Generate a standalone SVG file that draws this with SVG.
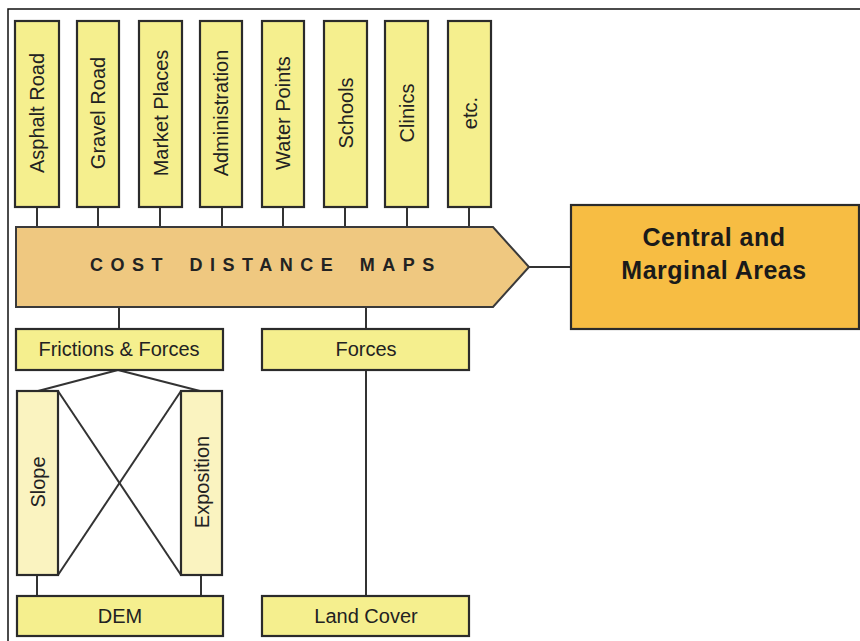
<svg xmlns="http://www.w3.org/2000/svg" width="860" height="641" viewBox="0 0 860 641">
<style>
.box{fill:#F5EF8E;stroke:#2b2b2b;stroke-width:2.2}
.lbox{fill:#FAF3C0;stroke:#2b2b2b;stroke-width:2.2}
.t{font-family:"Liberation Sans",Arial,sans-serif;font-size:20px;fill:#222;text-anchor:middle}
.c{stroke:#333;stroke-width:2;fill:none}
</style>
<rect x="0" y="0" width="860" height="641" fill="#fff"/>
<path d="M8,641 V9 H860" fill="none" stroke="#111" stroke-width="1.5"/>
<g id="connectors">
<line class="c" x1="37" y1="207" x2="37" y2="227"/>
<line class="c" x1="98" y1="207" x2="98" y2="227"/>
<line class="c" x1="160" y1="207" x2="160" y2="227"/>
<line class="c" x1="222" y1="207" x2="222" y2="227"/>
<line class="c" x1="283" y1="207" x2="283" y2="227"/>
<line class="c" x1="345" y1="207" x2="345" y2="227"/>
<line class="c" x1="407" y1="207" x2="407" y2="227"/>
<line class="c" x1="469" y1="207" x2="469" y2="227"/>
<line class="c" x1="529" y1="267" x2="571" y2="267"/>
<line class="c" x1="119" y1="307" x2="119" y2="329"/>
<line class="c" x1="366" y1="307" x2="366" y2="329"/>
<line class="c" x1="118" y1="370" x2="38" y2="391"/>
<line class="c" x1="118" y1="370" x2="200" y2="391"/>
<line class="c" x1="58" y1="391" x2="181" y2="575"/>
<line class="c" x1="181" y1="391" x2="58" y2="575"/>
<line class="c" x1="37" y1="575" x2="37" y2="596"/>
<line class="c" x1="201" y1="575" x2="201" y2="596"/>
<line class="c" x1="366" y1="370" x2="366" y2="596"/>
</g>
<g id="asphalt"><rect class="box" x="15" y="21" width="44" height="186"/><text class="t" transform="translate(37,113) rotate(-90)" y="7">Asphalt Road</text></g>
<g id="gravel"><rect class="box" x="77" y="21" width="42" height="186"/><text class="t" transform="translate(98,113) rotate(-90)" y="7">Gravel Road</text></g>
<g id="market"><rect class="box" x="139" y="21" width="43" height="186"/><text class="t" transform="translate(160.5,113) rotate(-90)" y="7">Market Places</text></g>
<g id="admin"><rect class="box" x="200" y="21" width="42" height="186"/><text class="t" transform="translate(221,113) rotate(-90)" y="7">Administration</text></g>
<g id="water"><rect class="box" x="262" y="21" width="42" height="186"/><text class="t" transform="translate(283,113) rotate(-90)" y="7">Water Points</text></g>
<g id="schools"><rect class="box" x="324" y="21" width="43" height="186"/><text class="t" transform="translate(345.5,113) rotate(-90)" y="7">Schools</text></g>
<g id="clinics"><rect class="box" x="385" y="21" width="43" height="186"/><text class="t" transform="translate(406.5,113) rotate(-90)" y="7">Clinics</text></g>
<g id="etc"><rect class="box" x="448" y="21" width="43" height="186"/><text class="t" transform="translate(469.5,113) rotate(-90)" y="7">etc.</text></g>
<g id="costdistance"><path d="M16,227 H493 L529,267 L493,307 H16 Z" fill="#EFC880" stroke="#3a3a3a" stroke-width="2"/><text x="90" y="271" font-family="'Liberation Sans',Arial,sans-serif" font-size="18" font-weight="bold" fill="#222" letter-spacing="7.5" word-spacing="7">COST DISTANCE MAPS</text></g>
<g id="central"><rect x="571" y="205" width="288" height="124" fill="#F7BD43" stroke="#2b2b2b" stroke-width="2.2"/><text font-family="'Liberation Sans',Arial,sans-serif" font-size="25" font-weight="bold" fill="#1a1a1a" text-anchor="middle" letter-spacing="0.5"><tspan x="714" y="246">Central and</tspan><tspan x="714" y="279">Marginal Areas</tspan></text></g>
<g id="frictions"><rect class="box" x="16" y="329" width="207" height="41"/><text class="t" x="119" y="356">Frictions &amp; Forces</text></g>
<g id="forces"><rect class="box" x="262" y="329" width="207" height="41"/><text class="t" x="366" y="356">Forces</text></g>
<g id="slope"><rect class="lbox" x="17" y="391" width="41" height="184"/><text class="t" transform="translate(37.5,482) rotate(-90)" y="7">Slope</text></g>
<g id="exposition"><rect class="lbox" x="181" y="391" width="41" height="184"/><text class="t" transform="translate(201.5,482) rotate(-90)" y="7">Exposition</text></g>
<g id="dem"><rect class="box" x="17" y="596" width="206" height="40"/><text class="t" x="120" y="623">DEM</text></g>
<g id="landcover"><rect class="box" x="262" y="596" width="207" height="40"/><text class="t" x="366" y="623">Land Cover</text></g>
</svg>
